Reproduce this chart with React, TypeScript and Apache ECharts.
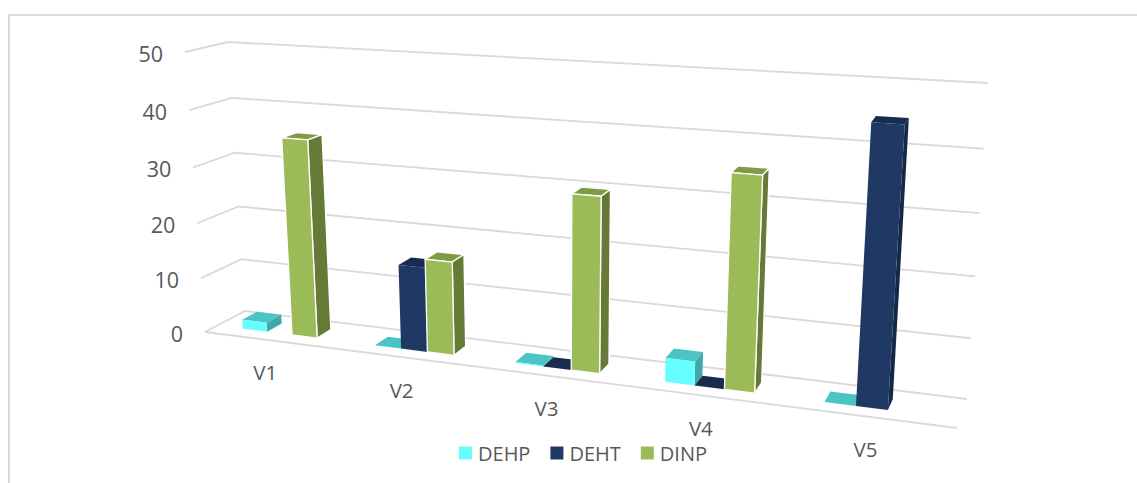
import React, { useEffect, useRef } from "react";
import * as echarts from "echarts";

const categories = ["V1", "V2", "V3", "V4", "V5"];
const valueTicks = [0, 10, 20, 30, 40, 50];
const seriesNames = ["DEHP", "DEHT", "DINP"];
const dehp = [1.7, 0, 0.2, 4.1, 0];
const deht = [null, 15, 0, 0, 44.8];
const dinp = [35.5, 16.5, 30, 35.5, null];

const TEXT = "#595959";
const FONT = "'Open Sans', sans-serif";
const GRIDLINE = "#D9D9D9";
const faces = [
  { front: "#66FFFF", top: "#4DC4C4", side: "#40A8A8", edge: "rgba(255,255,255,0)", w: 0 },
  { front: "#1F3864", top: "#182C4F", side: "#162847", edge: "rgba(255,255,255,0)", w: 0 },
  { front: "#9BBB59", top: "#7F9B45", side: "#657A36", edge: "#FFFFFF", w: 1.3 },
];

// Projection of the flat grid rectangle on the tilted 3D box
const FL = [205, 332], FR = [957, 428], BL = [245, 311], BR = [967, 399];
const HFL = [-20, -280], HFR = [24, -329], HBL = [-17, -269], HBR = [21, -316];
const PERSPECTIVE = 1.17;
const PERSPECTIVE_V = 1.05;
const DEPTH_FRONT = 0.31, DEPTH_BACK = 0.69;
const BAR_SHARE = 0.19;
const BAR_SHIFT = -2.5;

const mix = (a: number[], b: number[], k: number) => [a[0] + (b[0] - a[0]) * k, a[1] + (b[1] - a[1]) * k];
const project = (u: number, w: number, v: number) => {
  const t = u / (u + (1 - u) * PERSPECTIVE);
  const s = v / (v + (1 - v) * PERSPECTIVE_V);
  const base = mix(mix(FL, FR, t), mix(BL, BR, t), w);
  const h = mix(mix(HFL, HFR, t), mix(HBL, HBR, t), w);
  return [base[0] + h[0] * s, base[1] + h[1] * s];
};
const normU = (px: number, cs: any) => (px - cs.x) / cs.width;
const normV = (py: number, cs: any) => (cs.y + cs.height - py) / cs.height;

const barSeries = (name: string, values: (number | null)[], si: number) => ({
  type: "custom",
  name,
  coordinateSystem: "cartesian2d",
  clip: false,
  silent: true,
  z: 3 + si,
  itemStyle: { color: faces[si].front },
  encode: { x: 0, y: 1 },
  data: values.map((v, i) => [i, v]),
  renderItem: (params: any, api: any) => {
    const val = api.value(1);
    if (val === null || val === undefined || isNaN(val)) return null;
    const cs = params.coordSys;
    const idx = api.value(0);
    const top = api.coord([idx, val]);
    const band = api.size([1, 0])[0];
    const barW = band * BAR_SHARE;
    const x0 = top[0] - 1.5 * barW + si * barW + BAR_SHIFT;
    const u0 = normU(x0, cs), u1 = normU(x0 + barW, cs);
    const v = normV(top[1], cs);
    const c = faces[si];
    const poly = (points: number[][], fill: string) => ({
      type: "polygon",
      shape: { points },
      style: { fill, stroke: c.edge, lineWidth: c.w, lineJoin: "round" },
    });
    return {
      type: "group",
      children: [
        poly([project(u0, DEPTH_FRONT, v), project(u1, DEPTH_FRONT, v), project(u1, DEPTH_BACK, v), project(u0, DEPTH_BACK, v)], c.top),
        poly([project(u1, DEPTH_FRONT, 0), project(u1, DEPTH_BACK, 0), project(u1, DEPTH_BACK, v), project(u1, DEPTH_FRONT, v)], c.side),
        poly([project(u0, DEPTH_FRONT, 0), project(u1, DEPTH_FRONT, 0), project(u1, DEPTH_FRONT, v), project(u0, DEPTH_FRONT, v)], c.front),
      ],
    };
  },
});

const wallSeries = {
  type: "custom",
  name: "grid",
  coordinateSystem: "cartesian2d",
  clip: false,
  silent: true,
  z: 1,
  encode: { x: 0, y: 1 },
  data: valueTicks.map((v) => [0, v]),
  renderItem: (params: any, api: any) => {
    const cs = params.coordSys;
    const tick = api.value(1);
    const v = normV(api.coord([0, tick])[1], cs);
    const front = project(0, 0, v);
    const children: any[] = [
      {
        type: "polyline",
        shape: { points: [front, project(0, 1, v), project(1, 1, v)] },
        style: { stroke: GRIDLINE, fill: "none", lineWidth: 1.8 },
      },
      {
        type: "text",
        style: {
          text: String(tick),
          x: front[0] - 22,
          y: front[1] + 1,
          align: "right",
          verticalAlign: "middle",
          fontSize: 21.5,
          fontFamily: FONT,
          fill: TEXT,
        },
      },
    ];
    if (tick === 0) {
      children.push({
        type: "polyline",
        shape: { points: [project(0, 0, 0), project(1, 0, 0)] },
        style: { stroke: GRIDLINE, fill: "none", lineWidth: 1.8 },
      });
    }
    return { type: "group", children };
  },
};

const categorySeries = {
  type: "custom",
  name: "labels",
  coordinateSystem: "cartesian2d",
  clip: false,
  silent: true,
  z: 2,
  encode: { x: 0, y: 1 },
  data: categories.map((_, i) => [i, 0]),
  renderItem: (params: any, api: any) => {
    const cs = params.coordSys;
    const idx = api.value(0);
    const p = project(normU(api.coord([idx, 0])[0], cs), 0, 0);
    return {
      type: "text",
      style: {
        text: categories[idx],
        x: p[0] - 5,
        y: p[1] + 32,
        align: "center",
        verticalAlign: "middle",
        fontSize: 20.5,
        fontFamily: FONT,
        fill: TEXT,
      },
    };
  },
};

export default function App() {
  const ref = useRef<HTMLDivElement>(null);
  useEffect(() => {
    const chart = echarts.init(ref.current!, undefined, { renderer: "svg" });
    chart.setOption({
      animation: false,
      backgroundColor: "#FFFFFF",
      grid: { left: 205, width: 752, top: 42, height: 290 },
      xAxis: { type: "category", data: categories, show: false },
      yAxis: { type: "value", min: 0, max: 50, interval: 10, show: false },
      legend: {
        data: seriesNames,
        left: 454,
        top: 438,
        itemWidth: 13,
        itemHeight: 13,
        itemGap: 20,
        icon: "rect",
        selectedMode: false,
        textStyle: { fontSize: 20, fontFamily: FONT, color: TEXT, padding: [0, 0, 0, 1] },
      },
      graphic: [
        { type: "polyline", shape: { points: [[9, 483], [9, 15], [1137, 15]] }, style: { stroke: GRIDLINE, fill: "none", lineWidth: 2 }, silent: true },
      ],
      series: [
        wallSeries,
        categorySeries,
        barSeries(seriesNames[0], dehp, 0),
        barSeries(seriesNames[1], deht, 1),
        barSeries(seriesNames[2], dinp, 2),
      ],
    });
    return () => chart.dispose();
  }, []);
  return <div ref={ref} style={{ position: "fixed", left: 0, top: 0, width: 1137, height: 483 }} />;
}
